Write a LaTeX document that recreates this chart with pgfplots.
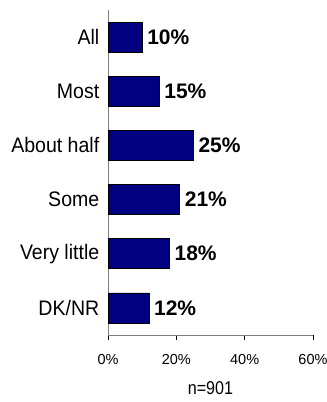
\documentclass[border=0pt]{standalone}
\usepackage{fontspec}
\setmainfont{Liberation Sans}
\usepackage{pgfplots}
\pgfplotsset{compat=1.18}
\definecolor{barnavy}{RGB}{0,0,128}
\definecolor{axgray}{RGB}{128,128,128}
\begin{document}
\begin{tikzpicture}
\begin{axis}[
  scale only axis,
  width=205pt, height=325pt,
  xbar, bar width=30pt,
  xmin=0, xmax=60,
  ymin=-0.5, ymax=5.5,
  y dir=reverse,
  axis x line*=bottom, axis y line*=left,
  axis line style={draw=axgray, line width=1pt},
  xtick={0,20,40,60},
  xticklabels={0\%,20\%,40\%,60\%},
  ytick={0,1,2,3,4,5},
  yticklabels={All,Most,About half,Some,Very little,DK/NR},
  tick align=outside,
  x tick style={black, line width=0.6pt},
  major tick length=5pt,
  y tick style={draw=none},
  /pgf/number format/assume math mode=true,
  xticklabel style={font=\fontsize{14.5}{14.5}\selectfont, yshift=-11pt},
  yticklabel style={font=\fontsize{21}{21}\selectfont, xscale=0.93, xshift=-0.5pt},
  xlabel={n=901},
  xlabel style={font=\fontsize{18.5}{18.5}\selectfont, xscale=0.87, yshift=-12pt, inner sep=1pt},
  nodes near coords={\pgfmathprintnumber{\pgfplotspointmeta}\%},
  point meta=x,
  every node near coord/.append style={font=\bfseries\fontsize{21}{21}\selectfont, anchor=west, xshift=1.5pt},
  clip=false,
]
\addplot[fill=barnavy, draw=black, line width=0.6pt] coordinates {
  (10,0) (15,1) (25,2) (21,3) (18,4) (12,5)
};
\end{axis}
\pgfresetboundingbox
\path[use as bounding box] ([shift={(-108pt,-67pt)}]current axis.south west) rectangle ([shift={(14pt,10pt)}]current axis.north east);
\end{tikzpicture}
\end{document}
